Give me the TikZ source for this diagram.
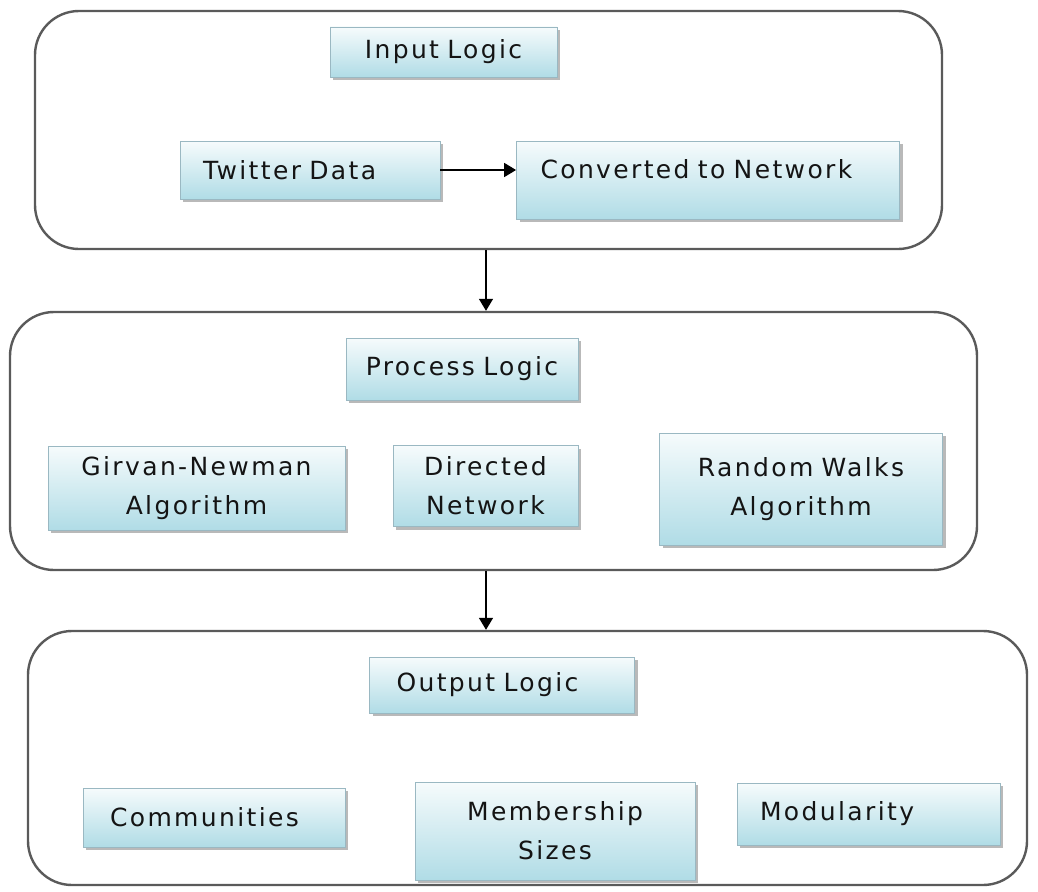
\documentclass[tikz,border=0pt]{standalone}
\usepackage{fontspec}
\setmainfont{DejaVu Sans}
\newfontfamily\boxfont[LetterSpace=9.5]{DejaVu Sans}
\usepackage{tikz}
\usetikzlibrary{arrows.meta,shadows}
\definecolor{boxtop}{HTML}{F6FBFC}
\definecolor{boxbottom}{HTML}{B0DCE6}
\definecolor{boxline}{HTML}{9AB8C2}
\definecolor{frameline}{HTML}{5A5A5A}

\begin{document}
\begin{tikzpicture}[x=1pt, y=-1pt, >={Triangle[length=12pt,width=14pt]},
  layer/.style={draw=frameline, line width=2.4pt, rounded corners=44pt, inner sep=0pt},
  stepbox/.style={draw=boxline, line width=0.8pt, top color=boxtop, bottom color=boxbottom,
    drop shadow={shadow xshift=3pt, shadow yshift=-3pt, fill=black!50, opacity=0.55},
    inner ysep=0pt, text=black!92, font=\boxfont\fontsize{25}{39}\selectfont},
  flow/.style={->, line width=1.6pt}]
  \useasboundingbox (0,0) rectangle (1038,891);

  % the three layers
  \node[layer, minimum width=907pt, minimum height=238pt] (inputlayer) at (488.5,130) {};
  \node[layer, minimum width=967pt, minimum height=258pt] (processlayer) at (493.5,441) {};
  \node[layer, minimum width=999pt, minimum height=254pt] (outputlayer) at (527.5,758) {};

  % input
  \node[stepbox, minimum height=50pt, text width=217pt, inner xsep=5pt, align=center] (inlogic) at (443.5,52) {Input Logic};
  \node[stepbox, minimum height=58pt, text width=214pt, inner xsep=23pt, align=left] (twitter) at (310,170) {Twitter Data};
  \node[stepbox, minimum height=78pt, text width=335pt, inner xsep=24pt, align=left, text depth=22pt] (network) at (708,180) {Converted to Network};

  % process
  \node[stepbox, minimum height=62pt, text width=222pt, inner xsep=5pt, align=center] (proclogic) at (462,369) {Process Logic};
  \node[stepbox, minimum height=84pt, text width=287pt, inner xsep=5pt, align=center] (girvan) at (196.5,488) {Girvan-Newman\\Algorithm};
  \node[stepbox, minimum height=81pt, text width=175pt, inner xsep=5pt, align=center] (directed) at (485.5,486) {Directed\\Network};
  \node[stepbox, minimum height=112pt, text width=273pt, inner xsep=5pt, align=center] (randomwalk) at (801,489) {Random Walks\\Algorithm};

  % output
  \node[stepbox, minimum height=56pt, text width=211pt, inner xsep=27pt, align=left] (outlogic) at (502,685) {Output Logic};
  \node[stepbox, minimum height=59pt, text width=208pt, inner xsep=27pt, align=left] (communities) at (214,817.5) {Communities};
  \node[stepbox, minimum height=98pt, text width=270pt, inner xsep=5pt, align=center] (membership) at (555,831) {Membership\\Sizes};
  \node[stepbox, minimum height=62pt, text width=217pt, inner xsep=23pt, align=left] (modularity) at (868.5,814) {Modularity};

  \coordinate (spine) at (486,0);
  \draw[flow] (twitter.east) -- (twitter.east -| network.west);
  \draw[flow] (inputlayer.south -| spine) -- (processlayer.north -| spine);
  \draw[flow] (processlayer.south -| spine) -- (outputlayer.north -| spine);
\end{tikzpicture}
\end{document}
